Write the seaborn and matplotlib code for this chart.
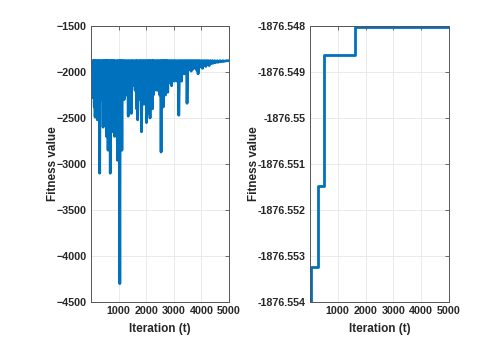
import numpy as np
import pandas as pd
import matplotlib
matplotlib.use('Agg')
import matplotlib.pyplot as plt
import seaborn as sns

#======================================================================================
# Data
# Left panel: fitness value of every iteration (a top level plus the downward spikes)
top_value = -1877.0
start_iter = [1, 45]
start_value = [-1945, -1945]

trough_iter = [80, 120, 150, 190, 230, 270, 315, 350, 400, 440, 480, 520, 560, 590,
               620, 660, 700, 740, 780, 820, 860, 900, 960, 1000, 1045, 1080, 1120,
               1160, 1200, 1250, 1300, 1350, 1400, 1460, 1500, 1550, 1600, 1650, 1690,
               1740, 1790, 1830, 1880, 1920, 1970, 2010, 2060, 2100, 2140, 2180, 2230,
               2260, 2300, 2350, 2400, 2440, 2490, 2540, 2580, 2620, 2660, 2700, 2740,
               2780, 2820, 2870, 2920, 2970, 3020, 3070, 3120, 3180, 3230, 3280, 3330,
               3380, 3430, 3480, 3530, 3580, 3630, 3680, 3730, 3780, 3830, 3880, 3930,
               3980, 4040, 4100, 4160, 4220, 4280, 4350, 4420, 4500, 4600, 4700, 4800]
trough_value = [-2280, -2380, -2490, -2250, -2520, -2400, -3100, -2300, -2200, -2600,
                -2350, -2500, -2700, -2300, -2850, -2250, -3100, -2400, -2650, -2300,
                -2700, -2250, -2960, -2300, -4300, -2250, -2850, -2200, -2300, -2150,
                -2250, -2480, -2200, -2450, -2150, -2050, -2200, -2400, -2520, -2250,
                -2300, -2650, -2200, -2350, -2250, -2550, -2200, -2450, -2500, -2300,
                -2400, -2250, -2200, -2150, -2200, -2100, -2250, -2870, -2250, -2380,
                -2200, -2250, -2150, -2220, -2120, -2100, -2150, -2080, -2100, -2050,
                -2100, -2470, -2050, -2100, -2000, -2020, -1990, -2340, -1980, -1960,
                -1990, -1970, -1960, -1950, -1980, -2020, -1950, -1940, -1960, -1930,
                -1940, -1920, -1930, -1910, -1905, -1900, -1895, -1890, -1885]
tail_iter = [4900, 5000]
tail_value = [-1878, -1877]

# Right panel: best fitness found so far
best_iter = [1, 20, 275, 510, 1605, 5000]
best_value = [-1945.0, -1876.55325, -1876.55148, -1876.54863, -1876.548015, -1876.548015]

right_ticks = [-1876.554, -1876.553, -1876.552, -1876.551, -1876.55, -1876.549, -1876.548]
right_tick_labels = ['-1876.554', '-1876.553', '-1876.552', '-1876.551', '-1876.55',
                     '-1876.549', '-1876.548']
#======================================================================================

# zigzag series: back to the top level just before every spike
it_list = list(start_iter)
val_list = list(start_value)
for it, v in zip(trough_iter, trough_value):
    it_list += [it - 20, it]
    val_list += [top_value, v]
it_list += tail_iter
val_list += tail_value
dfLeft = pd.DataFrame({'iteration': it_list, 'fitness': val_list})
dfRight = pd.DataFrame({'iteration': best_iter, 'fitness': best_value})

sns.set_style('white')
plt.rcParams['font.family'] = ['Liberation Sans', 'DejaVu Sans']

lineColor = '#0072BD'
textColor = '#262626'

fig = plt.figure(figsize=(4.98, 3.40), dpi=100)
axL = fig.add_axes([91/498, 38/340, 138/498, 276/340])
axR = fig.add_axes([310/498, 38/340, 139/498, 276/340])

sns.lineplot(data=dfLeft, x='iteration', y='fitness', ax=axL, color=lineColor,
             linewidth=2, sort=False, estimator=None)
sns.lineplot(data=dfRight, x='iteration', y='fitness', ax=axR, color=lineColor,
             linewidth=2, sort=False, estimator=None, drawstyle='steps-post')

axL.set_ylim(-4500, -1500)
axL.set_yticks(np.arange(-4500, -1499, 500))
axR.set_ylim(-1876.554, -1876.548)
axR.set_yticks(right_ticks)
axR.set_yticklabels(right_tick_labels)

for ax in [axL, axR]:
    ax.set_xlim(1, 5000)
    ax.set_xticks([1000, 2000, 3000, 4000, 5000])
    ax.grid(True, color='#e6e6e6', linewidth=0.6)
    ax.set_axisbelow(True)
    for s in ax.spines.values():
        s.set_color('#555555')
        s.set_linewidth(0.7)
    ax.tick_params(direction='in', length=3, width=0.6, color='#555555',
                   top=True, right=True, labelsize=7.7, labelcolor=textColor, pad=3)
    for lab in ax.get_xticklabels() + ax.get_yticklabels():
        lab.set_fontweight('bold')
    ax.set_xlabel('Iteration (t)', fontsize=8.5, fontweight='bold', color=textColor,
                  labelpad=5)
    ax.set_ylabel('Fitness value', fontsize=8.5, fontweight='bold', color=textColor,
                  labelpad=-2)

fig.savefig('out.png', dpi=100)
